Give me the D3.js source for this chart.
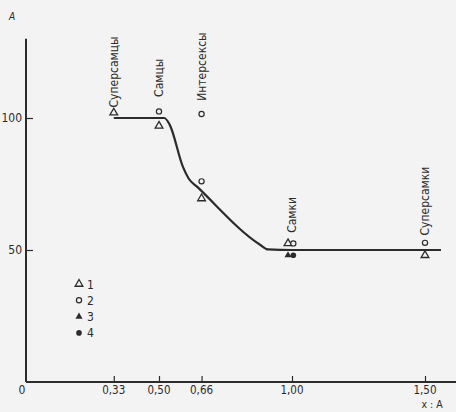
<!DOCTYPE html>
<html><head><meta charset="utf-8">
<script src="https://cdn.jsdelivr.net/npm/d3@7"></script>
<style>
html,body{margin:0;padding:0;background:#f3f3f3;}
svg{display:block;font-family:"Liberation Sans Narrow","DejaVu Sans Condensed","Arial Narrow",sans-serif;}
</style></head>
<body>
<script>
// Data
const xTicks = [0.33, 0.50, 0.66, 1.00, 1.50];
const xTickLabels = ["0,33", "0,50", "0,66", "1,00", "1,50"];
const yTicks = [50, 100];
const yTickLabels = ["50", "100"];

const curveX = [0.33, 0.52, 0.54, 0.59, 0.612, 0.645, 0.88, 0.91, 1.00, 1.56];
const curveY = [100, 100, 97.5, 81.5, 77, 73.8, 52, 50.2, 50, 50];

const s1x = [0.33, 0.50, 0.66, 0.985, 1.50];   // open triangles
const s1y = [102, 97, 69.5, 52.5, 48];
const s2x = [0.50, 0.66, 0.66, 1.005, 1.50];   // open circles
const s2y = [102.5, 101.5, 76, 52.5, 52.7];
const s3x = [0.985];                           // filled triangles
const s3y = [48];
const s4x = [1.005];                           // filled circles
const s4y = [48];

const labelTexts = ["Суперсамцы", "Самцы", "Интерсексы", "Самки", "Суперсамки"];
const labelX = [0.33, 0.50, 0.66, 1.00, 1.50];
const labelY = [104, 108, 106.5, 56.5, 55.5];

const legendLabels = ["1", "2", "3", "4"];

const W = 456, H = 412;
const svg = d3.select("body").append("svg").attr("width", W).attr("height", H);

const x = d3.scaleLinear().domain([0, 1.5]).range([26, 425]);
const y = d3.scaleLinear().domain([0, 100]).range([382, 118]);
const ink = "#2b2b2b";

// axes lines
svg.append("line").attr("x1", x(0)).attr("x2", x(0)).attr("y1", y(0)).attr("y2", y(130))
  .attr("stroke", ink).attr("stroke-width", 2);
svg.append("line").attr("x1", x(0)).attr("x2", W).attr("y1", y(0)).attr("y2", y(0))
  .attr("stroke", ink).attr("stroke-width", 2);

// x axis ticks (inward)
const xAxis = d3.axisTop(x).tickValues(xTicks).tickSize(6).tickFormat("");
const gx = svg.append("g").attr("transform", `translate(0,${y(0)})`).call(xAxis);
gx.select(".domain").remove();
gx.selectAll("line").attr("stroke", ink).attr("stroke-width", 1.2);
svg.selectAll(".xl").data(xTicks).enter().append("text")
  .attr("x", d => x(d)).attr("y", y(0) + 12).attr("text-anchor", "middle")
  .attr("font-size", 11.5).attr("fill", ink).text((d, i) => xTickLabels[i]);

// y axis ticks (inward)
const yAxis = d3.axisRight(y).tickValues(yTicks).tickSize(7).tickFormat("");
const gy = svg.append("g").attr("transform", `translate(${x(0)},0)`).call(yAxis);
gy.select(".domain").remove();
gy.selectAll("line").attr("stroke", ink).attr("stroke-width", 1.2);
svg.selectAll(".yl").data(yTicks).enter().append("text")
  .attr("x", x(0) - 4).attr("y", d => y(d)).attr("dy", "0.35em").attr("text-anchor", "end")
  .attr("font-size", 12).attr("fill", ink).text((d, i) => yTickLabels[i]);

svg.append("text").attr("x", 22).attr("y", y(0) + 12).attr("text-anchor", "middle")
  .attr("font-size", 12).attr("fill", ink).text("0");
svg.append("text").attr("x", 12).attr("y", 20).attr("text-anchor", "middle")
  .attr("font-size", 10).attr("font-style", "italic").attr("fill", ink).text("A");
svg.append("text").attr("x", 432).attr("y", 408).attr("text-anchor", "middle")
  .attr("font-size", 10.5).attr("fill", ink).text("x : A");

// curve
const line = d3.line().x(d => x(d[0])).y(d => y(d[1])).curve(d3.curveMonotoneX);
svg.append("path").datum(curveX.map((v, i) => [v, curveY[i]]))
  .attr("d", line).attr("fill", "none").attr("stroke", ink).attr("stroke-width", 2.2);

// markers
const tri = d3.symbol().type(d3.symbolTriangle).size(26);
const triF = d3.symbol().type(d3.symbolTriangle).size(22);
function openTri(xs, ys) {
  svg.append("g").selectAll("path").data(xs).enter().append("path")
    .attr("d", tri).attr("transform", (d, i) => `translate(${x(d)},${y(ys[i])})`)
    .attr("fill", "#f3f3f3").attr("stroke", ink).attr("stroke-width", 1.3);
}
function openCirc(xs, ys) {
  svg.append("g").selectAll("circle").data(xs).enter().append("circle")
    .attr("cx", d => x(d)).attr("cy", (d, i) => y(ys[i])).attr("r", 2.6)
    .attr("fill", "#f3f3f3").attr("stroke", ink).attr("stroke-width", 1.2);
}
function fillTri(xs, ys) {
  svg.append("g").selectAll("path").data(xs).enter().append("path")
    .attr("d", triF).attr("transform", (d, i) => `translate(${x(d)},${y(ys[i])})`)
    .attr("fill", ink);
}
function fillCirc(xs, ys) {
  svg.append("g").selectAll("circle").data(xs).enter().append("circle")
    .attr("cx", d => x(d)).attr("cy", (d, i) => y(ys[i])).attr("r", 2.8).attr("fill", ink);
}
openTri(s1x, s1y);
openCirc(s2x, s2y);
fillTri(s3x, s3y);
fillCirc(s4x, s4y);

// vertical labels
svg.selectAll(".vl").data(labelTexts).enter().append("text")
  .attr("transform", (d, i) => `translate(${x(labelX[i])},${y(labelY[i])}) rotate(-90)`)
  .attr("dy", "0.35em").attr("text-anchor", "start")
  .attr("font-size", 12).attr("fill", ink).text(d => d);

// legend
const lx = 79, ly0 = 284, ldy = 16.3;
const lg = svg.append("g");
legendLabels.forEach((t, i) => {
  const cy = ly0 + i * ldy;
  if (i === 0) lg.append("path").attr("d", tri).attr("transform", `translate(${lx},${cy})`)
    .attr("fill", "#f3f3f3").attr("stroke", ink).attr("stroke-width", 1.3);
  if (i === 1) lg.append("circle").attr("cx", lx).attr("cy", cy).attr("r", 2.6)
    .attr("fill", "#f3f3f3").attr("stroke", ink).attr("stroke-width", 1.2);
  if (i === 2) lg.append("path").attr("d", triF).attr("transform", `translate(${lx},${cy})`).attr("fill", ink);
  if (i === 3) lg.append("circle").attr("cx", lx).attr("cy", cy).attr("r", 2.8).attr("fill", ink);
  lg.append("text").attr("x", lx + 8).attr("y", cy).attr("dy", "0.38em")
    .attr("font-size", 12).attr("fill", ink).text(t);
});
</script>
</body></html>
